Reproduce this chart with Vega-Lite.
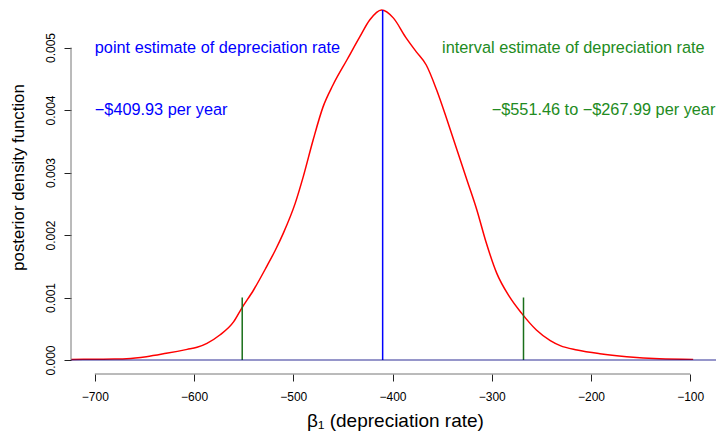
{
  "$schema": "https://vega.github.io/schema/vega-lite/v6.json",
  "width": 645,
  "height": 374,
  "autosize": "none",
  "padding": {"left": 71, "top": 0, "right": 0, "bottom": 59},
  "background": "white",
  "config": {"view": {"stroke": null}, "font": "Liberation Sans", "axis": {"grid": false}},
  "datasets": {
    "curve": [
      {"beta1": -724, "density": 0.00001},
      {"beta1": -700, "density": 0.000012},
      {"beta1": -680, "density": 0.000015},
      {"beta1": -668, "density": 0.00002},
      {"beta1": -648, "density": 0.000053},
      {"beta1": -628, "density": 0.000107},
      {"beta1": -607, "density": 0.00017},
      {"beta1": -597, "density": 0.000203},
      {"beta1": -587, "density": 0.000267},
      {"beta1": -574, "density": 0.0004},
      {"beta1": -560, "density": 0.000613},
      {"beta1": -552, "density": 0.000827},
      {"beta1": -540, "density": 0.00112},
      {"beta1": -527, "density": 0.00149},
      {"beta1": -518, "density": 0.00176},
      {"beta1": -510, "density": 0.00203},
      {"beta1": -498, "density": 0.00251},
      {"beta1": -490, "density": 0.00293},
      {"beta1": -480, "density": 0.00352},
      {"beta1": -470, "density": 0.00405},
      {"beta1": -460, "density": 0.0044},
      {"beta1": -446, "density": 0.0048},
      {"beta1": -433, "density": 0.00517},
      {"beta1": -423, "density": 0.00544},
      {"beta1": -411, "density": 0.0056},
      {"beta1": -399, "density": 0.00547},
      {"beta1": -387, "density": 0.00517},
      {"beta1": -376, "density": 0.00493},
      {"beta1": -366, "density": 0.00472},
      {"beta1": -355.5, "density": 0.00432},
      {"beta1": -345, "density": 0.00384},
      {"beta1": -335, "density": 0.00336},
      {"beta1": -325, "density": 0.00288},
      {"beta1": -315, "density": 0.0024},
      {"beta1": -306, "density": 0.0019},
      {"beta1": -295, "density": 0.00139},
      {"beta1": -282, "density": 0.00101},
      {"beta1": -270, "density": 0.00075},
      {"beta1": -255, "density": 0.00048},
      {"beta1": -241, "density": 0.00031},
      {"beta1": -231, "density": 0.00023},
      {"beta1": -214, "density": 0.00016},
      {"beta1": -191, "density": 0.0001},
      {"beta1": -164, "density": 0.000053},
      {"beta1": -131, "density": 0.00002},
      {"beta1": -97, "density": 0.00001}
    ],
    "labels": [
      {"x": -700, "y": 0.005, "label": "point estimate of depreciation rate", "kind": "point"},
      {"x": -700, "y": 0.004, "label": "−$409.93 per year", "kind": "point"},
      {"x": -350, "y": 0.005, "label": "interval estimate of depreciation rate", "kind": "interval"},
      {"x": -300, "y": 0.004, "label": "−$551.46 to −$267.99 per year", "kind": "interval"}
    ]
  },
  "layer": [
    {
      "data": {"name": "curve"},
      "mark": {"type": "line", "color": "#FF0000", "strokeWidth": 1.5, "interpolate": "monotone"},
      "encoding": {
        "x": {
          "field": "beta1", "type": "quantitative",
          "scale": {"domain": [-724, -74], "nice": false, "zero": false},
          "axis": {
            "title": "β₁ (depreciation rate)",
            "values": [-700, -600, -500, -400, -300, -200, -100],
            "format": "d",
            "domain": false,
            "tickSize": 7, "tickColor": "#222", "tickWidth": 1,
            "labelFontSize": 12, "labelColor": "#000", "labelFont": "Liberation Sans",
            "labelPadding": 19, "labelBaseline": "alphabetic", "labelFlush": false, "labelOverlap": false,
            "titleFont": "Liberation Sans", "titleFontSize": 19, "titleFontWeight": "normal", "titleColor": "#000",
            "titleX": 324, "titleY": 52, "titleBaseline": "alphabetic", "titleAlign": "center"
          }
        },
        "y": {
          "field": "density", "type": "quantitative",
          "scale": {"domain": [-0.000224, 0.00576], "nice": false, "zero": false},
          "axis": {
            "title": "posterior density function",
            "values": [0, 0.001, 0.002, 0.003, 0.004, 0.005],
            "format": ".3f",
            "domain": false,
            "tickSize": 7, "tickColor": "#222", "tickWidth": 1,
            "labelFontSize": 12, "labelColor": "#000", "labelFont": "Liberation Sans",
            "labelAngle": -90, "labelAlign": "center", "labelBaseline": "alphabetic",
            "labelPadding": 9.7, "labelFlush": false, "labelOverlap": false,
            "titleFont": "Liberation Sans", "titleFontSize": 16.8, "titleFontWeight": "normal", "titleColor": "#000",
            "titleAngle": -90, "titleX": -48, "titleY": 177, "titleAlign": "center", "titleBaseline": "alphabetic"
          }
        }
      }
    },
    {
      "data": {"values": [{"x": -409.93, "y": 0, "y2": 0.0056}]},
      "mark": {"type": "rule", "color": "#0000FF", "strokeWidth": 1.5},
      "encoding": {
        "x": {"field": "x", "type": "quantitative"},
        "y": {"field": "y", "type": "quantitative"},
        "y2": {"field": "y2"}
      }
    },
    {
      "data": {"values": [{"x": -551.46, "y": 0, "y2": 0.001}, {"x": -267.99, "y": 0, "y2": 0.001}]},
      "mark": {"type": "rule", "color": "#1a6f1a", "strokeWidth": 1.5},
      "encoding": {
        "x": {"field": "x", "type": "quantitative"},
        "y": {"field": "y", "type": "quantitative"},
        "y2": {"field": "y2"}
      }
    },
    {
      "data": {"values": [{"y": 0}]},
      "mark": {"type": "rule", "color": "#000080", "opacity": 0.55, "strokeWidth": 1.5},
      "encoding": {
        "y": {"field": "y", "type": "quantitative"}
      }
    },
    {
      "data": {"values": [{"x": -700, "x2": -100, "y": -0.000224}]},
      "mark": {"type": "rule", "color": "#777777", "strokeWidth": 1},
      "encoding": {
        "x": {"field": "x", "type": "quantitative"},
        "x2": {"field": "x2"},
        "y": {"field": "y", "type": "quantitative"}
      }
    },
    {
      "data": {"values": [{"x": -724, "y": 0, "y2": 0.005}]},
      "mark": {"type": "rule", "color": "#777777", "strokeWidth": 1},
      "encoding": {
        "x": {"field": "x", "type": "quantitative"},
        "y": {"field": "y", "type": "quantitative"},
        "y2": {"field": "y2"}
      }
    },
    {
      "data": {"name": "labels"},
      "mark": {"type": "text", "align": "left", "baseline": "middle", "fontSize": 16.3, "font": "Liberation Sans"},
      "encoding": {
        "x": {"field": "x", "type": "quantitative"},
        "y": {"field": "y", "type": "quantitative"},
        "text": {"field": "label", "type": "nominal"},
        "color": {"field": "kind", "type": "nominal", "scale": {"domain": ["point", "interval"], "range": ["#0000FF", "#228B22"]}, "legend": null}
      }
    }
  ]
}
